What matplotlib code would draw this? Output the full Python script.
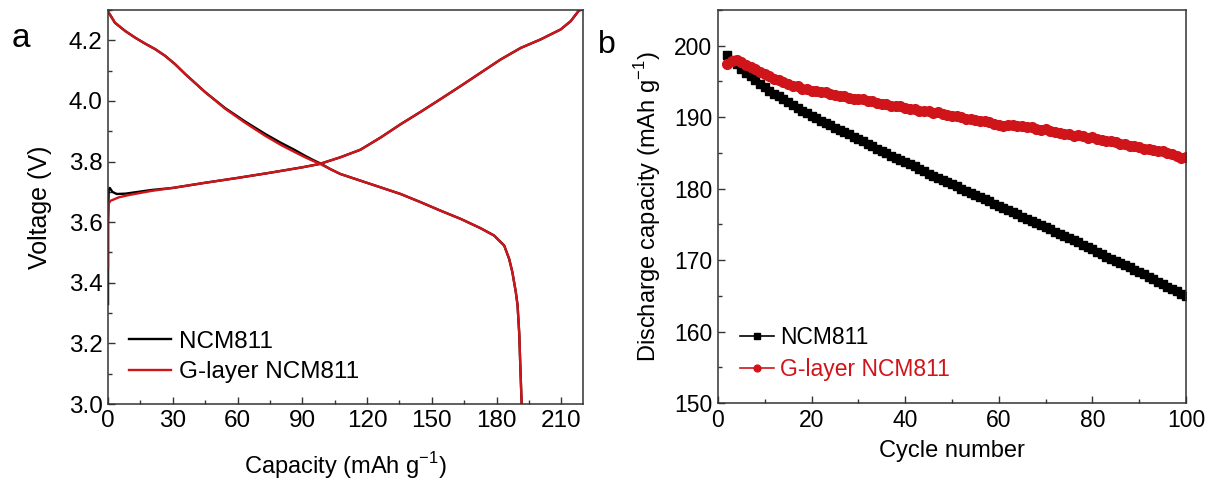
import matplotlib
matplotlib.use("Agg")
import matplotlib.pyplot as plt
from matplotlib.ticker import MultipleLocator

plt.rcParams['font.family'] = ['Liberation Sans', 'DejaVu Sans']
plt.rcParams['mathtext.fontset'] = 'custom'
plt.rcParams['mathtext.rm'] = 'Liberation Sans'

# ---- Panel a: charge / discharge voltage profiles ----
charge_cap_ncm = [0.0, 0.0, 0.3, 0.8, 2.0, 4.0, 8.0, 14, 20, 30, 45, 60, 75, 90, 98,
                  107.6, 116.9, 126.2, 135.5, 144.8, 154.0, 163.3, 172.6, 181.9,
                  191.2, 200.4, 209.7, 214.3, 218.2, 219]
charge_v_ncm = [3.33, 3.60, 3.705, 3.713, 3.700, 3.693, 3.694, 3.700, 3.706, 3.713,
                3.730, 3.746, 3.763, 3.781, 3.792, 3.814, 3.839, 3.879, 3.923, 3.964,
                4.006, 4.049, 4.093, 4.137, 4.175, 4.203, 4.236, 4.263, 4.299, 4.300]

charge_cap_g = [0.0, 0.0, 0.3, 1.0, 5.0, 10, 20, 30, 45, 60, 75, 90, 98,
                107.6, 116.9, 126.2, 135.5, 144.8, 154.0, 163.3, 172.6, 181.9,
                191.2, 200.4, 209.7, 214.3, 218.2, 219]
charge_v_g = [3.45, 3.60, 3.660, 3.670, 3.682, 3.690, 3.703, 3.713, 3.730, 3.746,
              3.763, 3.781, 3.792, 3.814, 3.839, 3.879, 3.923, 3.964, 4.006, 4.049,
              4.093, 4.137, 4.175, 4.203, 4.236, 4.263, 4.299, 4.300]

discharge_cap_ncm = [0.0, 3.2, 7.9, 12.5, 17.2, 21.8, 26.4, 31.1, 35.7, 45, 54.3, 63.5,
                     72.8, 80, 86, 91, 95, 98.3, 103, 107.6, 116.9, 126.2, 135.5, 144.8,
                     154.0, 163.3, 172.6, 178.8, 183.5, 185.8, 187.3, 188.9, 189.7,
                     190.5, 191.0, 191.6]
discharge_v_ncm = [4.295, 4.258, 4.231, 4.209, 4.189, 4.171, 4.149, 4.121, 4.089, 4.029,
                   3.976, 3.932, 3.891, 3.862, 3.840, 3.820, 3.805, 3.794, 3.775, 3.759,
                   3.737, 3.715, 3.693, 3.666, 3.638, 3.611, 3.580, 3.556, 3.523, 3.479,
                   3.435, 3.369, 3.326, 3.230, 3.120, 3.000]

discharge_cap_g = [0.0, 3.2, 7.9, 12.5, 17.2, 21.8, 26.4, 31.1, 35.7, 45, 54.3, 63.5,
                   72.8, 80, 86, 91, 95, 98.3, 103, 107.6, 116.9, 126.2, 135.5, 144.8,
                   154.0, 163.3, 172.6, 178.8, 183.5, 185.8, 187.3, 188.9, 189.7,
                   190.5, 191.0, 191.6]
discharge_v_g = [4.295, 4.258, 4.231, 4.209, 4.189, 4.171, 4.149, 4.121, 4.089, 4.029,
                 3.974, 3.928, 3.885, 3.855, 3.833, 3.815, 3.802, 3.792, 3.775, 3.759,
                 3.737, 3.715, 3.693, 3.666, 3.638, 3.611, 3.580, 3.556, 3.523, 3.479,
                 3.435, 3.369, 3.326, 3.230, 3.120, 3.000]

# ---- Panel b: cycling performance ----
cycles = list(range(2, 101))
cap_ncm = [198.7, 198.0, 197.4, 196.8, 196.2, 195.7, 195.2, 194.7, 194.2, 193.7,
           193.3, 192.9, 192.5, 192.1, 191.7, 191.3, 190.9, 190.6, 190.2, 189.9,
           189.5, 189.2, 188.9, 188.5, 188.2, 187.9, 187.6, 187.2, 186.9, 186.6,
           186.3, 185.9, 185.6, 185.3, 185.0, 184.6, 184.3, 184.0, 183.7, 183.4,
           183.1, 182.8, 182.5, 182.1, 181.8, 181.5, 181.2, 180.9, 180.6, 180.3,
           180.0, 179.7, 179.4, 179.1, 178.8, 178.5, 178.2, 177.9, 177.6, 177.3,
           177.0, 176.7, 176.4, 176.1, 175.8, 175.5, 175.2, 174.9, 174.6, 174.3,
           174.0, 173.7, 173.4, 173.1, 172.8, 172.5, 172.1, 171.8, 171.5, 171.2,
           170.8, 170.5, 170.2, 169.9, 169.6, 169.3, 169.0, 168.6, 168.3, 168.0,
           167.6, 167.3, 167.0, 166.7, 166.3, 166.0, 165.7, 165.3, 165.0]
cap_g = [197.5, 197.9, 198.0, 197.7, 197.3, 197.0, 196.7, 196.3, 196.0, 195.7,
         195.4, 195.2, 194.9, 194.7, 194.4, 194.3, 194.0, 193.9, 193.7, 193.6,
         193.5, 193.5, 193.3, 193.1, 193.0, 192.9, 192.7, 192.6, 192.6, 192.5,
         192.3, 192.2, 192.0, 191.9, 191.8, 191.6, 191.6, 191.5, 191.3, 191.2,
         191.1, 190.9, 190.9, 190.8, 190.6, 190.7, 190.5, 190.3, 190.2, 190.1,
         190.0, 189.8, 189.8, 189.6, 189.4, 189.5, 189.3, 189.0, 188.9, 188.8,
         188.9, 188.9, 188.7, 188.8, 188.6, 188.6, 188.4, 188.2, 188.3, 188.0,
         187.9, 187.8, 187.6, 187.6, 187.4, 187.5, 187.3, 187.1, 187.2, 187.0,
         186.8, 186.7, 186.6, 186.5, 186.3, 186.2, 186.0, 185.9, 185.8, 185.6,
         185.5, 185.4, 185.2, 185.3, 185.0, 184.8, 184.5, 184.3, 184.4]

series_labels = ["NCM811", "G-layer NCM811"]
black = "#000000"
red = "#d0151a"
spine_color = "#333333"
FS_A = 17.5
FS_B = 16.5

fig = plt.figure(figsize=(12.14, 4.86), dpi=100)
ax_a = fig.add_axes([0.0890, 0.1687, 0.3912, 0.8107])
ax_b = fig.add_axes([0.5914, 0.1708, 0.3855, 0.8086])


def style_axes(ax, fs):
    for s in ax.spines.values():
        s.set_color(spine_color)
        s.set_linewidth(1.1)
    ax.tick_params(which='both', direction='in', top=False, right=False,
                   color=spine_color, labelsize=fs, width=1.0)
    ax.tick_params(which='major', length=5, pad=4)
    ax.tick_params(which='minor', length=3)


# Panel a
ax_a.plot(charge_cap_ncm, charge_v_ncm, color=black, lw=1.7, label=series_labels[0])
ax_a.plot(discharge_cap_ncm, discharge_v_ncm, color=black, lw=1.7)
ax_a.plot(charge_cap_g, charge_v_g, color=red, lw=1.7, label=series_labels[1])
ax_a.plot(discharge_cap_g, discharge_v_g, color=red, lw=1.7)
ax_a.set_xlim(0, 220)
ax_a.set_ylim(3.0, 4.3)
ax_a.xaxis.set_major_locator(MultipleLocator(30))
ax_a.xaxis.set_minor_locator(MultipleLocator(15))
ax_a.yaxis.set_major_locator(MultipleLocator(0.2))
ax_a.yaxis.set_minor_locator(MultipleLocator(0.1))
ax_a.yaxis.set_major_formatter(lambda v, p: f"{v:.1f}")
style_axes(ax_a, FS_A)
ax_a.set_xlabel("Capacity (mAh g$^{-1}$)", fontsize=17)
ax_a.set_ylabel("Voltage (V)", fontsize=18)
ax_a.xaxis.set_label_coords(0.5, -0.118)
ax_a.yaxis.set_label_coords(-0.118, 0.5)
leg_a = ax_a.legend(loc='lower left', bbox_to_anchor=(0.0, 0.0), frameon=False,
                    fontsize=17.5, handlelength=1.75, handletextpad=0.3,
                    labelspacing=0.36, borderaxespad=0.45)
fig.text(0.0095, 0.903, "a", fontsize=24, ha='left', va='baseline')

# Panel b
ax_b.plot(cycles, cap_ncm, color=black, lw=1.2, marker='s', ms=5.5,
          label=series_labels[0])
ax_b.plot(cycles, cap_g, color=red, lw=1.2, marker='o', ms=7.0,
          label=series_labels[1])
ax_b.set_xlim(0, 100)
ax_b.set_ylim(150, 205)
ax_b.xaxis.set_major_locator(MultipleLocator(20))
ax_b.xaxis.set_minor_locator(MultipleLocator(10))
ax_b.yaxis.set_major_locator(MultipleLocator(10))
ax_b.yaxis.set_minor_locator(MultipleLocator(5))
style_axes(ax_b, FS_B)
ax_b.set_xlabel("Cycle number", fontsize=17)
ax_b.set_ylabel("Discharge capacity (mAh g$^{-1}$)", fontsize=17)
ax_b.xaxis.set_label_coords(0.5, -0.095)
ax_b.yaxis.set_label_coords(-0.118, 0.5)
leg_b = ax_b.legend(loc='lower left', bbox_to_anchor=(0.0, 0.0), frameon=False,
                    fontsize=16.5, handlelength=1.5, handletextpad=0.25,
                    labelspacing=0.42, borderaxespad=0.55, markerscale=0.7)
for txt, col in zip(leg_b.get_texts(), [black, red]):
    txt.set_color(col)
fig.text(0.4925, 0.891, "b", fontsize=23, ha='left', va='baseline')

fig.savefig("out.png", dpi=100)
